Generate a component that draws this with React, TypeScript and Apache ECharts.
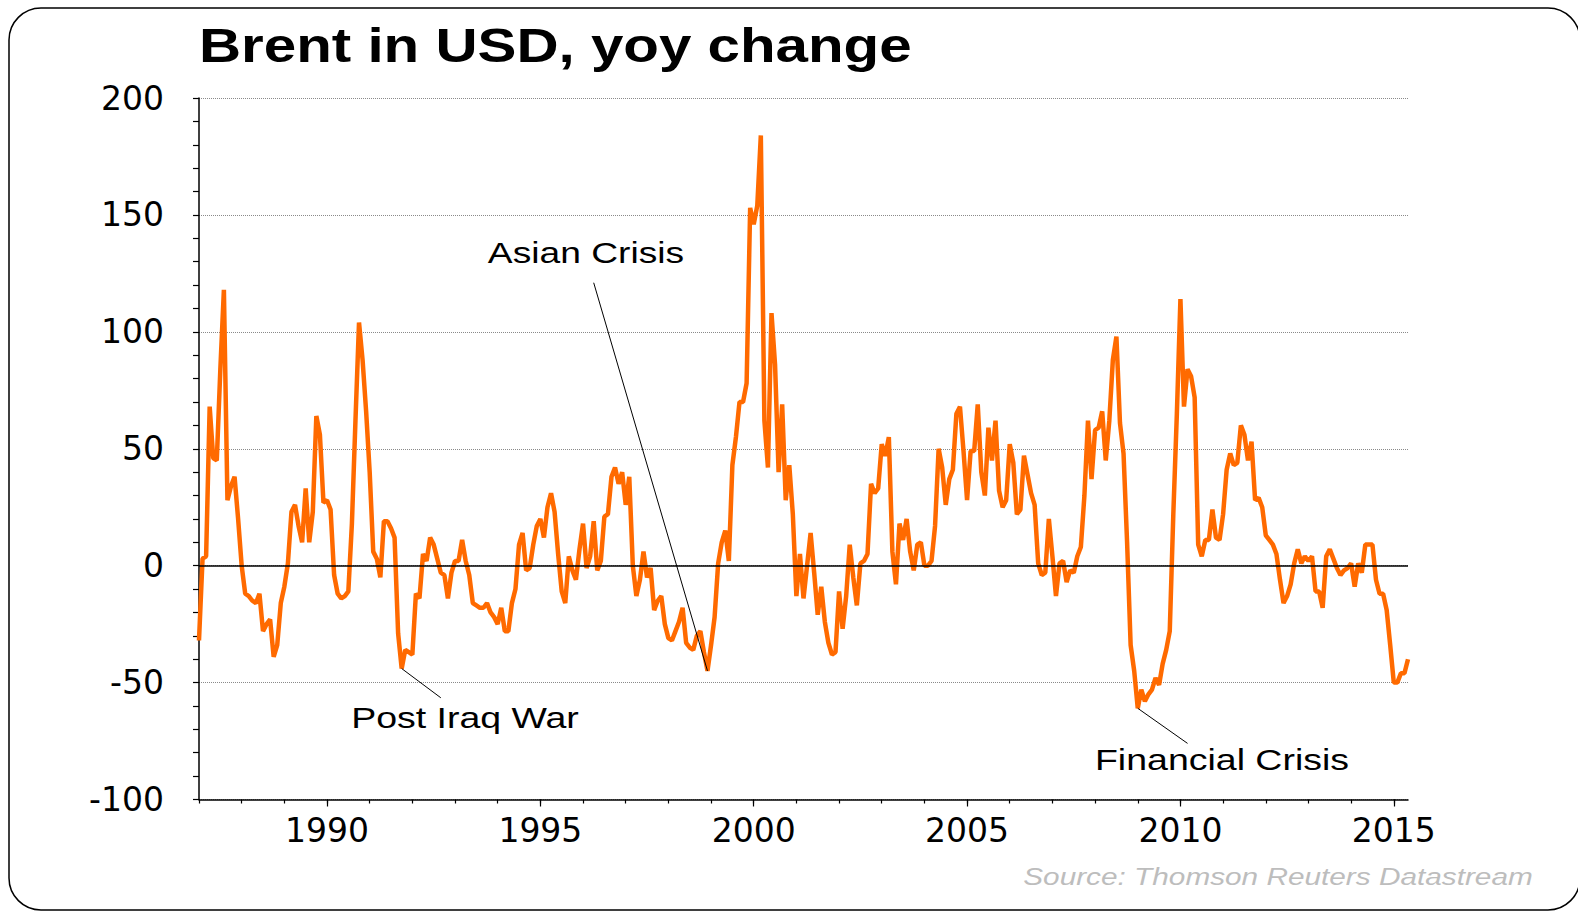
import React, { useEffect, useRef } from "react";
import * as echarts from "echarts";

// ---- data (Brent in USD, year-on-year % change, monthly from Jan 1987) ----
const START_YEAR = 1987;

const YOY_BY_YEAR: number[][] = [
  [-32, 3, 4, 68, 46, 45, 84, 118, 28, 34, 38, 20], // 1987
  [0, -12, -13, -15, -16, -12, -28, -25, -23, -39, -34, -16], // 1988
  [-9, 1, 23, 26, 17, 10, 33, 10, 23, 64, 56, 27], // 1989
  [28, 24, -4, -12, -14, -13, -11, 18, 62, 104, 88, 66], // 1990
  [40, 6, 3, -5, 19, 19, 16, 12, -29, -44, -36, -37], // 1991
  [-38, -12, -14, 5, 2, 12, 9, 3, -3, -4, -14, -3], // 1992
  [2, 2, 11, 2, -4, -16, -17, -18, -18, -16, -20, -22], // 1993
  [-25, -18, -28, -28, -16, -10, 9, 14, -2, -1, 9, 17], // 1994
  [20, 12, 25, 31, 23, 5, -11, -16, 4, -2, -6, 7], // 1995
  [18, -1, 4, 19, -2, 2, 21, 22, 38, 42, 35, 40], // 1996
  [26, 38, 0, -13, -6, 6, -5, -1, -19, -15, -13, -25], // 1997
  [-31, -32, -28, -24, -18, -33, -35, -36, -30, -28, -37, -45], // 1998
  [-34, -22, 1, 10, 15, 2, 43, 55, 70, 70, 78, 153], // 1999
  [146, 154, 184, 62, 42, 108, 86, 40, 69, 28, 43, 22], // 2000
  [-13, 5, -14, 0, 14, -3, -21, -9, -24, -33, -38, -37], // 2001
  [-11, -27, -13, 9, -5, -17, 1, 2, 5, 35, 31, 33], // 2002
  [52, 47, 55, 6, -8, 18, 11, 20, 6, -2, 9, 10], // 2003
  [0, 0, 2, 17, 50, 42, 26, 37, 41, 65, 68, 49], // 2004
  [28, 49, 49, 69, 40, 30, 59, 45, 62, 32, 25, 28], // 2005
  [52, 44, 22, 24, 47, 39, 31, 26, 1, -4, -3, 20], // 2006
  [4, -13, 1, 2, -7, -2, -3, 4, 8, 30, 62, 37], // 2007
  [58, 59, 66, 45, 62, 88, 98, 61, 48, 10, -34, -45], // 2008
  [-61, -53, -58, -55, -53, -48, -51, -42, -36, -28, 22, 65], // 2009
  [114, 68, 84, 81, 72, 9, 4, 11, 11, 24, 12, 11], // 2010
  [22, 41, 48, 43, 44, 60, 56, 45, 53, 28, 29, 25], // 2011
  [13, 11, 9, 5, -6, -16, -13, -8, 1, 7, 1, 4], // 2012
  [2, 4, -11, -11, -18, 4, 7, 3, -1, -4, -2, -1], // 2013
  [1, -9, 1, -3, 9, 9, 9, -6, -12, -12, -19, -34], // 2014
  [-50, -50, -46, -46, -40], // 2015
];

const BRENT_YOY: number[] = YOY_BY_YEAR.flat();

const MONTHS: string[] = BRENT_YOY.map((_, i) => {
  const y = START_YEAR + Math.floor(i / 12);
  const m = (i % 12) + 1;
  return `${y}-${m < 10 ? "0" + m : m}`;
});

const MAJOR_YEARS: number[] = [1990, 1995, 2000, 2005, 2010, 2015];
const Y_TICKS = { min: -100, max: 200, step: 50 };

const ANNOTATION_LABELS = ["Asian Crisis", "Post Iraq War", "Financial Crisis"];
const ANNOTATION_MONTHS = ["1998-12", "1991-10", "2009-01"];

const TITLE = "Brent in USD, yoy change";
const SOURCE = "Source: Thomson Reuters Datastream";

const ORANGE = "#FF6A00";
const SANS = '"Liberation Sans", Arial, Helvetica, sans-serif';
const AXIS_FONT = '"DejaVu Sans", "Liberation Sans", sans-serif';

const isMajor = (v: string) =>
  v.endsWith("-01") && MAJOR_YEARS.includes(Number(v.slice(0, 4)));

export default function App() {
  const ref = useRef<HTMLDivElement | null>(null);

  useEffect(() => {
    if (!ref.current) return;
    const chart = echarts.init(ref.current, null, { renderer: "svg" });

    const idx = ANNOTATION_MONTHS.map((m) => MONTHS.indexOf(m));
    const leaderEnds = [
      [111, 121],
      [68, -56.5],
      [278, -76],
    ];
    const lineStyleThin = { color: "#000", width: 1, type: "solid" as const };

    const option: any = {
      animation: false,
      backgroundColor: "#ffffff",
      grid: { left: 199, right: 170, top: 98, bottom: 111.5, containLabel: false },
      xAxis: [
        {
          type: "category",
          data: MONTHS,
          boundaryGap: false,
          position: "bottom",
          axisLine: { show: true, onZero: false, lineStyle: { color: "#000", width: 1.5 } },
          axisTick: {
            show: true,
            length: 4,
            interval: (i: number) => i % 12 === 0,
            lineStyle: { color: "#000", width: 1.2 },
          },
          axisLabel: { show: false },
          splitLine: { show: false },
        },
        {
          type: "category",
          data: MONTHS,
          boundaryGap: false,
          position: "bottom",
          axisLine: { show: false, onZero: false },
          axisTick: {
            show: true,
            length: 7,
            interval: (_i: number, v: string) => isMajor(v),
            lineStyle: { color: "#000", width: 1.2 },
          },
          axisLabel: {
            show: true,
            interval: (_i: number, v: string) => isMajor(v),
            formatter: (v: string) => v.slice(0, 4),
            fontFamily: AXIS_FONT,
            fontSize: 33,
            color: "#000",
            margin: 14,
          },
          splitLine: { show: false },
        },
      ],
      yAxis: {
        type: "value",
        min: Y_TICKS.min,
        max: Y_TICKS.max,
        interval: Y_TICKS.step,
        axisLine: { show: true, lineStyle: { color: "#000", width: 1.5 } },
        axisTick: { show: true, length: 6, lineStyle: { color: "#000", width: 1.2 } },
        minorTick: { show: true, splitNumber: 5, length: 6, lineStyle: { color: "#000", width: 1.2 } },
        splitLine: { show: true, lineStyle: { color: "#8a8a8a", type: "dotted", width: 1 } },
        minorSplitLine: { show: false },
        axisLabel: {
          fontFamily: AXIS_FONT,
          fontSize: 33,
          color: "#000",
          margin: 35,
          padding: [0, 0, 14, 0],
        },
      },
      series: [
        {
          type: "line",
          data: BRENT_YOY,
          xAxisIndex: 0,
          yAxisIndex: 0,
          showSymbol: false,
          symbol: "none",
          lineStyle: { color: ORANGE, width: 4.5 },
          itemStyle: { color: ORANGE },
          z: 3,
          markLine: {
            silent: true,
            symbol: ["none", "none"],
            label: { show: false },
            animation: false,
            data: [
              { yAxis: 0, lineStyle: { color: "#000", width: 1.5, type: "solid" } },
              ...idx.map((k, j) => [
                { coord: [k, BRENT_YOY[k]], lineStyle: lineStyleThin },
                { coord: leaderEnds[j] },
              ]),
            ],
          },
        },
      ],
      graphic: [
        {
          type: "rect",
          shape: { x: 9, y: 8, width: 1571, height: 902, r: 32 },
          style: { fill: "none", stroke: "#000", lineWidth: 1.5 },
          silent: true,
          z: -1,
        },
        {
          type: "text",
          x: 199,
          y: 45,
          scaleX: 1.19,
          style: {
            text: TITLE,
            font: `bold 49px ${SANS}`,
            fill: "#000",
            align: "left",
            verticalAlign: "middle",
          },
        },
        {
          type: "text",
          x: 586,
          y: 252.5,
          scaleX: 1.24,
          style: {
            text: ANNOTATION_LABELS[0],
            font: `30px ${SANS}`,
            fill: "#000",
            align: "center",
            verticalAlign: "middle",
          },
        },
        {
          type: "text",
          x: 465,
          y: 717,
          scaleX: 1.25,
          style: {
            text: ANNOTATION_LABELS[1],
            font: `30px ${SANS}`,
            fill: "#000",
            align: "center",
            verticalAlign: "middle",
          },
        },
        {
          type: "text",
          x: 1222,
          y: 759.5,
          scaleX: 1.25,
          style: {
            text: ANNOTATION_LABELS[2],
            font: `30px ${SANS}`,
            fill: "#000",
            align: "center",
            verticalAlign: "middle",
          },
        },
        {
          type: "text",
          x: 1278,
          y: 877,
          scaleX: 1.267,
          style: {
            text: SOURCE,
            font: `italic 23.5px ${SANS}`,
            fill: "#bdbdbd",
            align: "center",
            verticalAlign: "middle",
          },
        },
      ],
    };

    chart.setOption(option);
    return () => chart.dispose();
  }, []);

  return (
    <div
      ref={ref}
      style={{ position: "absolute", left: 0, top: 0, width: 1578, height: 911, background: "#fff" }}
    />
  );
}
